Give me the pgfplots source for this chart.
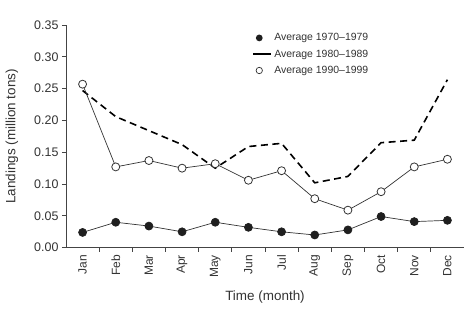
\documentclass[border=0pt]{standalone}
\usepackage{pgfplots}
\pgfplotsset{compat=1.18}
\usepackage{fontspec}
\setmainfont{Liberation Sans}
\definecolor{txt}{HTML}{333333}
\definecolor{axc}{HTML}{444444}
\begin{document}
\begin{tikzpicture}
\begin{axis}[
 scale only axis, width=398bp, height=222.7bp,
 xmin=-0.5, xmax=11.5, ymin=0, ymax=0.35,
 axis lines*=left,
 axis line style={axc, line width=0.8bp},
 tick align=outside,
 major tick length=4bp, minor tick length=4bp,
 every tick/.style={axc, line width=0.8bp},
 xtick={0,...,11},
 xticklabels={Jan,Feb,Mar,Apr,May,Jun,Jul,Aug,Sep,Oct,Nov,Dec},
 major x tick style={draw=none},
 minor xtick={0.5,1.5,2.5,3.5,4.5,5.5,6.5,7.5,8.5,9.5,10.5},
 x tick label style={rotate=90, anchor=east, font=\fontsize{12}{14}\selectfont, text=txt},
 ytick={0,0.05,0.10,0.15,0.20,0.25,0.30,0.35},
 yticklabel style={font=\fontsize{12.5}{14}\selectfont, text=txt, /pgf/number format/.cd, fixed, fixed zerofill, precision=2, assume math mode=true},
 ylabel={Landings (million tons)},
 ylabel style={at={(axis description cs:-0.1357,0.5)}, anchor=center, font=\fontsize{13.5}{16}\selectfont, text=txt},
 xlabel={Time (month)},
 xlabel style={at={(axis description cs:0.5,-0.22)}, anchor=center, font=\fontsize{13.5}{16}\selectfont, text=txt},
 legend style={at={(rel axis cs:0.465,0.976)}, anchor=north west, draw=none, fill=none, font=\fontsize{10.5}{12}\selectfont, text=txt, row sep=3.5bp, inner sep=1bp},
 legend cell align=left,
 clip=false,
]
\coordinate (o) at (rel axis cs:0,0);
\addplot[forget plot, black, line width=1.6bp, dash pattern=on 7bp off 4.5bp] coordinates {
(0,0.247) (1,0.206) (2,0.184) (3,0.162) (4,0.125) (5,0.159) (6,0.164) (7,0.102) (8,0.112) (9,0.165) (10,0.169) (11,0.264)};
\addplot[forget plot, txt, line width=0.7bp, mark=*, mark size=4bp, mark options={fill=white, draw=txt, line width=0.8bp, solid}] coordinates {
(0,0.257) (1,0.127) (2,0.137) (3,0.125) (4,0.132) (5,0.106) (6,0.121) (7,0.077) (8,0.059) (9,0.088) (10,0.127) (11,0.139)};
\addplot[forget plot, txt, line width=0.7bp, mark=*, mark size=4bp, mark options={fill=black!88, draw=black!88}] coordinates {
(0,0.024) (1,0.040) (2,0.034) (3,0.025) (4,0.040) (5,0.032) (6,0.025) (7,0.020) (8,0.028) (9,0.049) (10,0.041) (11,0.043)};
\addlegendimage{legend image code/.code={\fill[black!88, draw=none] (6bp,0) circle (3.4bp); \path[draw=none, fill=none] (0,0) -- (18bp,0);}}
\addlegendentry{Average 1970--1979}
\addlegendimage{legend image code/.code={\draw[black, line width=2bp, solid] (0bp,0) -- (18bp,0);}}
\addlegendentry{Average 1980--1989}
\addlegendimage{legend image code/.code={\draw[txt, fill=white, line width=0.7bp, solid] (6bp,0) circle (3.2bp); \path[draw=none, fill=none] (0,0) -- (18bp,0);}}
\addlegendentry{Average 1990--1999}
\end{axis}
\pgfresetboundingbox
\path ([shift={(-66bp,-61.3bp)}]o) rectangle ++(468bp,309bp);
\end{tikzpicture}
\end{document}
